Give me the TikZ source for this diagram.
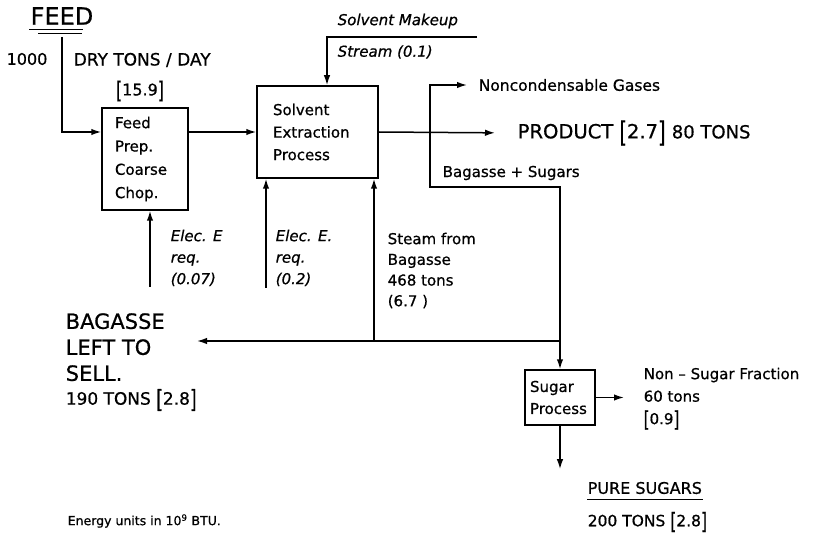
\documentclass[tikz,border=0pt]{standalone}
\usepackage{fontspec}
\setmainfont{DejaVu Sans}[FakeBold=0.7]
\usetikzlibrary{arrows.meta}
\newcommand\lbrk{\raisebox{-.18em}{\scalebox{1}[1.45]{[}}}
\newcommand\rbrk{\raisebox{-.18em}{\scalebox{1}[1.45]{]}}}
\begin{document}
\begin{tikzpicture}[x=1pt,y=-1pt,line width=1.5pt,
  arr/.style={-{Latex[length=10pt,width=6.5pt]}},
  box/.style={draw,inner sep=0pt,align=left},
  lbl/.style={inner sep=0pt,anchor=west},
  ml/.style={inner sep=0pt,anchor=north west,align=left},
  sm/.style={font=\fontsize{15}{15}\selectfont},
  it/.style={font=\itshape\fontsize{15}{15}\selectfont},
  uline/.style={line width=1pt}]
\fill[white] (0,0) rectangle (814,537);
\path[use as bounding box] (0,0) rectangle (814,537);

% feed
\node[inner sep=0pt,font=\fontsize{24}{24}\selectfont] (feed) at (62,16) {FEED};
\draw[uline] ([xshift=-33pt,yshift=-4.5pt]feed.south) -- ([xshift=21pt,yshift=-4.5pt]feed.south);
\draw[uline] ([xshift=-24pt,yshift=-8.5pt]feed.south) -- ([xshift=20pt,yshift=-8.5pt]feed.south);
\node[inner sep=0pt,font=\fontsize{16}{16}\selectfont] (thou) at (27,59) {1000};
\node[lbl,font=\fontsize{17}{17}\selectfont] (dry) at (73,60) {DRY TONS / DAY};
\node[inner sep=0pt,font=\fontsize{16}{16}\selectfont] (f159) at (140,91) {\lbrk15.9\rbrk};

% boxes
\node[box,minimum width=86pt,minimum height=102pt,text width=60pt,font=\fontsize{15}{23.3}\selectfont] (prep) at (145,159) {Feed\\Prep.\\Coarse\\Chop.};
\node[box,minimum width=121pt,minimum height=92pt,text width=89pt,font=\fontsize{15}{22.5}\selectfont] (solv) at (317.5,132) {Solvent\\Extraction\\Process};
\node[box,minimum width=70pt,minimum height=55pt,text width=60pt,font=\fontsize{15}{22}\selectfont] (sugar) at (560,397.5) {Sugar\\Process};

% feed connectors
\coordinate (feedtop) at (62,37);
\draw[arr] (feedtop) |- (prep.west |- solv.west);
\draw[arr] (prep.east |- solv.west) -- (solv.west);

% solvent makeup
\coordinate (mk) at (477,37);
\draw[arr] (mk) -| ([xshift=9.5pt]solv.north);
\node[lbl,it] (mkup) at (337,21) {Solvent Makeup};
\node[lbl,it] (strm) at (337,52) {Stream (0.1)};

% product
\node[lbl,font=\fontsize{19.5}{19.5}\selectfont] (prod) at (517,133) {PRODUCT \lbrk2.7\rbrk\ {\fontsize{18}{18}\selectfont 80 TONS}};
\draw[arr,shorten >=22pt] (solv.east) -- (prod.west);

% branch
\coordinate (br) at (430,133);
\node[lbl,font=\fontsize{15.5}{15.5}\selectfont] (gas) at (478,85) {Noncondensable Gases};
\draw[arr,shorten >=11pt] (br) |- (gas.west);
\coordinate (bs) at (560,187);
\draw[arr] (br) |- (bs) -- (sugar.north);
\node[lbl,sm] (bsug) at (442,173) {Bagasse + Sugars};

% bagasse return
\coordinate (bj) at (560,341);
\coordinate (bagtip) at (197,341);
\draw[arr] (bj) -- (bagtip);
\coordinate (sj) at (374,341);
\draw[arr] (sj) -- (sj |- solv.south);
\node[ml,font=\fontsize{15}{20.7}\selectfont] (steam) at (387,232) {Steam from\\Bagasse\\468 tons\\(6.7 )};

% electricity
\coordinate (e1) at (150,287);
\draw[arr] (e1) -- (e1 |- prep.south);
\coordinate (e2) at (266,288);
\draw[arr] (e2) -- (e2 |- solv.south);
\node[ml,font=\itshape\fontsize{15}{21.5}\selectfont] (el1) at (170,229) {Elec. E\\req.\\(0.07)};
\node[ml,font=\itshape\fontsize{15}{21.5}\selectfont] (el2) at (275,229) {Elec. E.\\req.\\(0.2)};

% bagasse left to sell
\node[ml,font=\fontsize{21}{26}\selectfont] (bag) at (65,312.5) {BAGASSE\\LEFT TO\\SELL.};
\node[lbl,font=\fontsize{17}{17}\selectfont] (bag2) at (65,400) {190 TONS \lbrk2.8\rbrk};

% sugar outputs
\node[ml,font=\fontsize{15}{22.5}\selectfont] (nons) at (643,367) {Non – Sugar Fraction\\60 tons\\\lbrk0.9\rbrk};
\draw[arr,shorten >=19pt] (sugar.east) -- (sugar.east -| nons.west);
\node[lbl,font=\fontsize{16}{16}\selectfont] (pure) at (587,488) {PURE SUGARS};
\draw[uline] ([yshift=-5pt]pure.south west) -- ([yshift=-5pt]pure.south east);
\node[lbl,font=\fontsize{15.5}{15.5}\selectfont] (pure2) at (587,522) {200 TONS \lbrk2.8\rbrk};
\draw[arr,shorten >=12pt] (sugar.south) -- (sugar.south |- pure.north);

% note
\node[lbl,font=\fontsize{12.5}{12.5}\selectfont] (note) at (67,521) {Energy units in 10\textsuperscript{9} BTU.};
\end{tikzpicture}
\end{document}
